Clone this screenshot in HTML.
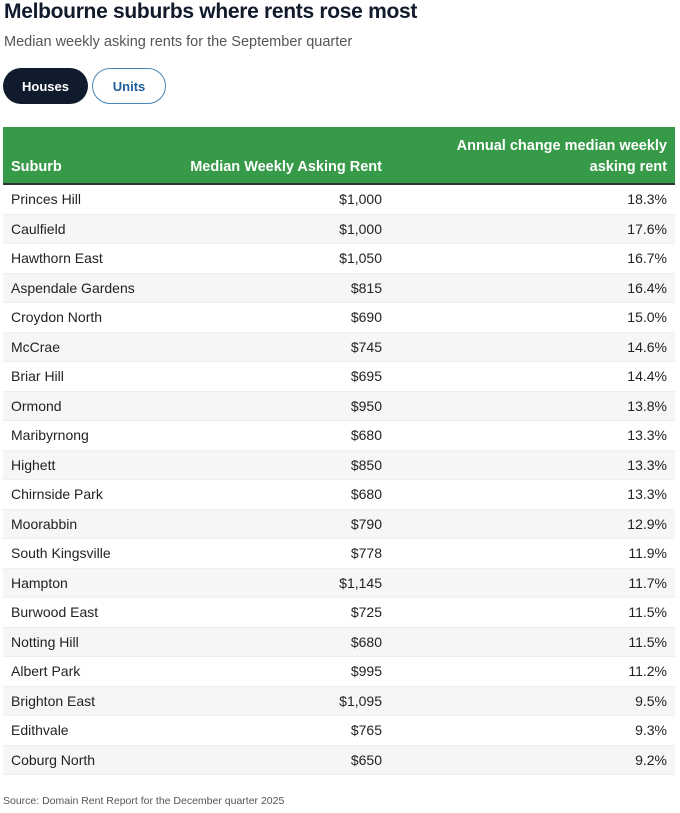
<!DOCTYPE html>
<html><head><style>
body{margin:0;width:680px;height:813px;background:#fff;font-family:"Liberation Sans",sans-serif;color:#222;position:relative;overflow:hidden}
.t{position:absolute;left:4px;top:0;font-size:21px;font-weight:bold;color:#111b2b;letter-spacing:-0.3px}
.s{position:absolute;left:4px;top:34px;font-size:14.5px;color:#555}
.b{position:absolute;top:68px;height:36px;border-radius:18px;font-size:13px;font-weight:bold;display:flex;align-items:center;justify-content:center;box-sizing:border-box}
.h{left:3px;width:85px;background:#111b2e;color:#fff}
.u{left:92px;width:74px;border:1.5px solid #4a86b5;color:#1d5d98}
table{position:absolute;left:3px;top:127px;width:672px;border-collapse:collapse;font-size:14px}
th{background:#379a48;color:#fff;font-size:14.5px;height:51px;vertical-align:bottom;padding:0 8px 5px 8px;border-bottom:2px solid #333;line-height:21px}
td{height:28.5px;padding:0 8px;border-bottom:1px solid #eee}
tr:nth-child(even) td{background:#f6f6f6}
.r{text-align:right}
.src{position:absolute;left:3px;top:795px;font-size:10.5px;color:#555}
</style></head><body>
<div class="t">Melbourne suburbs where rents rose most</div>
<div class="s">Median weekly asking rents for the September quarter</div>
<div class="b h">Houses</div><div class="b u">Units</div>
<table>
<thead><tr><th style="text-align:left;width:160px">Suburb</th><th class="r" style="width:195px">Median Weekly Asking Rent</th><th class="r">Annual change median weekly<br>asking rent</th></tr></thead>
<tbody>
<tr><td>Princes Hill</td><td class="r">$1,000</td><td class="r">18.3%</td></tr>
<tr><td>Caulfield</td><td class="r">$1,000</td><td class="r">17.6%</td></tr>
<tr><td>Hawthorn East</td><td class="r">$1,050</td><td class="r">16.7%</td></tr>
<tr><td>Aspendale Gardens</td><td class="r">$815</td><td class="r">16.4%</td></tr>
<tr><td>Croydon North</td><td class="r">$690</td><td class="r">15.0%</td></tr>
<tr><td>McCrae</td><td class="r">$745</td><td class="r">14.6%</td></tr>
<tr><td>Briar Hill</td><td class="r">$695</td><td class="r">14.4%</td></tr>
<tr><td>Ormond</td><td class="r">$950</td><td class="r">13.8%</td></tr>
<tr><td>Maribyrnong</td><td class="r">$680</td><td class="r">13.3%</td></tr>
<tr><td>Highett</td><td class="r">$850</td><td class="r">13.3%</td></tr>
<tr><td>Chirnside Park</td><td class="r">$680</td><td class="r">13.3%</td></tr>
<tr><td>Moorabbin</td><td class="r">$790</td><td class="r">12.9%</td></tr>
<tr><td>South Kingsville</td><td class="r">$778</td><td class="r">11.9%</td></tr>
<tr><td>Hampton</td><td class="r">$1,145</td><td class="r">11.7%</td></tr>
<tr><td>Burwood East</td><td class="r">$725</td><td class="r">11.5%</td></tr>
<tr><td>Notting Hill</td><td class="r">$680</td><td class="r">11.5%</td></tr>
<tr><td>Albert Park</td><td class="r">$995</td><td class="r">11.2%</td></tr>
<tr><td>Brighton East</td><td class="r">$1,095</td><td class="r">9.5%</td></tr>
<tr><td>Edithvale</td><td class="r">$765</td><td class="r">9.3%</td></tr>
<tr><td>Coburg North</td><td class="r">$650</td><td class="r">9.2%</td></tr>
</tbody></table>
<div class="src">Source: Domain Rent Report for the December quarter 2025</div>
</body></html>
